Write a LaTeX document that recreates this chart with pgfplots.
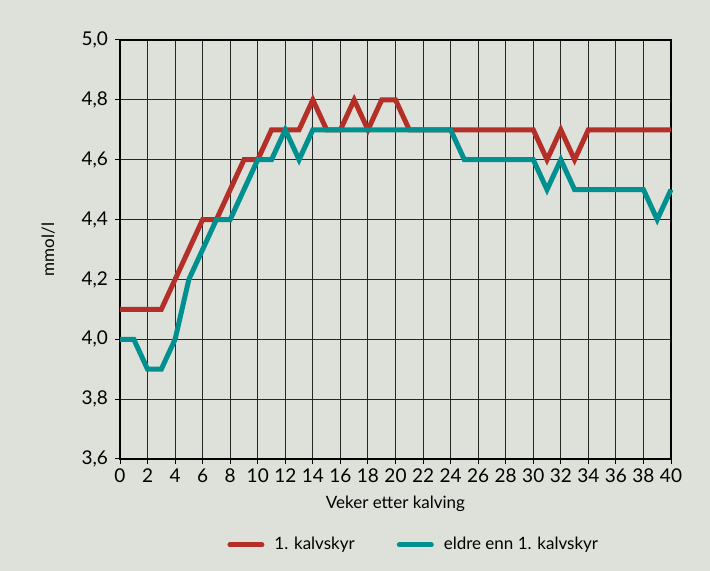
\documentclass[border=0pt]{standalone}
\usepackage{fontspec}
\setmainfont{Lato}
\usepackage{pgfplots}
\pgfplotsset{compat=1.18}
\definecolor{bgc}{HTML}{DDE1D9}
\definecolor{kred}{HTML}{B42F28}
\definecolor{kteal}{HTML}{00908F}
\begin{document}
\begin{tikzpicture}
\fill[bgc] (0,0) rectangle (355pt,285.5pt);
\begin{axis}[
    at={(60pt,56pt)}, anchor=south west,
    width=275.5pt, height=209.5pt, scale only axis,
    xmin=0, xmax=40, ymin=3.6, ymax=5.0,
    xtick={0,2,...,40},
    ytick={3.6,3.8,...,5.0},
    grid=major,
    grid style={black!85, line width=0.5pt},
    axis line style={black, line width=0.6pt},
    tick align=outside, major tick length=2.5pt,
    tick style={black, line width=0.5pt},
    xtick pos=bottom, ytick pos=left,
    font=\fontsize{8.5}{10}\selectfont,
    ticklabel style={font=\fontsize{9.5}{11}\selectfont},
    /pgf/number format/assume math mode=true,
    yticklabel style={/pgf/number format/.cd, use comma, fixed, fixed zerofill, precision=1},
    xticklabel style={yshift=1pt},
    xlabel={Veker etter kalving},
    ylabel={mmol/l},
    xlabel style={at={(axis description cs:0.5,0)}, anchor=north, yshift=-15pt},
    ylabel style={at={(axis description cs:0,0.5)}, anchor=south, yshift=29pt},
    legend columns=2,
    legend style={at={(0.535,-0.205)}, anchor=center, draw=none, fill=none,
        font=\fontsize{8.5}{10}\selectfont,
        /tikz/every odd column/.append style={column sep=3pt},
        /tikz/every even column/.append style={column sep=19pt}},
    legend image code/.code={\draw[#1, line cap=round] (0pt,0pt) -- (16pt,0pt);},
    clip=false,
]
\addplot[kred, line width=2.5pt, line join=miter] coordinates {
(0,4.1) (1,4.1) (2,4.1) (3,4.1) (4,4.2) (5,4.3) (6,4.4) (7,4.4) (8,4.5) (9,4.6)
(10,4.6) (11,4.7) (12,4.7) (13,4.7) (14,4.8) (15,4.7) (16,4.7) (17,4.8) (18,4.7) (19,4.8)
(20,4.8) (21,4.7) (22,4.7) (23,4.7) (24,4.7) (25,4.7) (26,4.7) (27,4.7) (28,4.7) (29,4.7)
(30,4.7) (31,4.6) (32,4.7) (33,4.6) (34,4.7) (35,4.7) (36,4.7) (37,4.7) (38,4.7) (39,4.7)
(40,4.7)};
\addlegendentry{1. kalvskyr}
\addplot[kteal, line width=2.5pt, line join=miter] coordinates {
(0,4.0) (1,4.0) (2,3.9) (3,3.9) (4,4.0) (5,4.2) (6,4.3) (7,4.4) (8,4.4) (9,4.5)
(10,4.6) (11,4.6) (12,4.7) (13,4.6) (14,4.7) (15,4.7) (16,4.7) (17,4.7) (18,4.7) (19,4.7)
(20,4.7) (21,4.7) (22,4.7) (23,4.7) (24,4.7) (25,4.6) (26,4.6) (27,4.6) (28,4.6) (29,4.6)
(30,4.6) (31,4.5) (32,4.6) (33,4.5) (34,4.5) (35,4.5) (36,4.5) (37,4.5) (38,4.5) (39,4.4)
(40,4.5)};
\addlegendentry{eldre enn 1. kalvskyr}
\end{axis}
\end{tikzpicture}
\end{document}
